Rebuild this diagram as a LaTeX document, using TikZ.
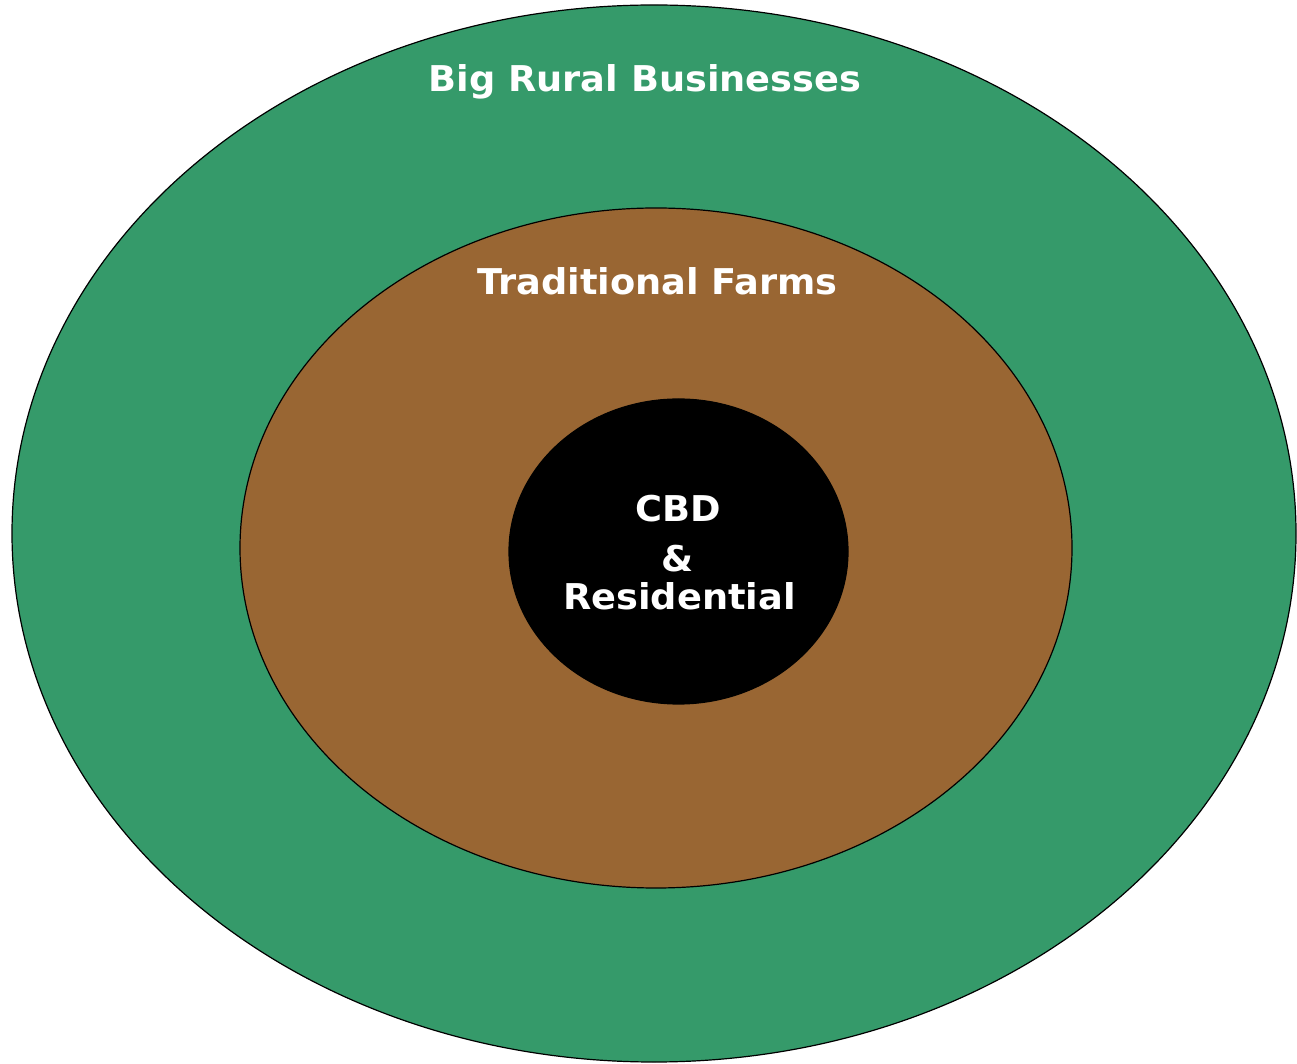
\documentclass[tikz,border=0pt]{standalone}
\usepackage{fontspec}
\setmainfont{DejaVu Sans}
\definecolor{ringgreen}{HTML}{359A6A}
\definecolor{ringbrown}{HTML}{996633}
\begin{document}
\begin{tikzpicture}[x=1pt,y=1pt,
  ring/.style={draw=black, line width=1.2pt},
  lbl/.style={text=white, font=\fontsize{35.5}{40}\selectfont\bfseries, anchor=base, inner sep=0pt, xscale=1.035, transform shape}]
\useasboundingbox (0,0) rectangle (1297,1063);
\path[ring, fill=ringgreen] (654,529.5) ellipse [x radius=642, y radius=528.5];
\path[ring, fill=ringbrown] (656,515) ellipse [x radius=416, y radius=340];
\path[ring, fill=black] (678.5,511.5) ellipse [x radius=169.5, y radius=152.5];
\node[lbl] (outer) at (645,971) {Big Rural Businesses};
\node[lbl] (middle) at (657.5,768) {Traditional Farms};
\node[lbl] (cbd) at (678,541.5) {CBD};
\node[lbl] (amp) at (678,491) {\&};
\node[lbl] (res) at (679.5,453) {Residential};
\end{tikzpicture}
\end{document}
